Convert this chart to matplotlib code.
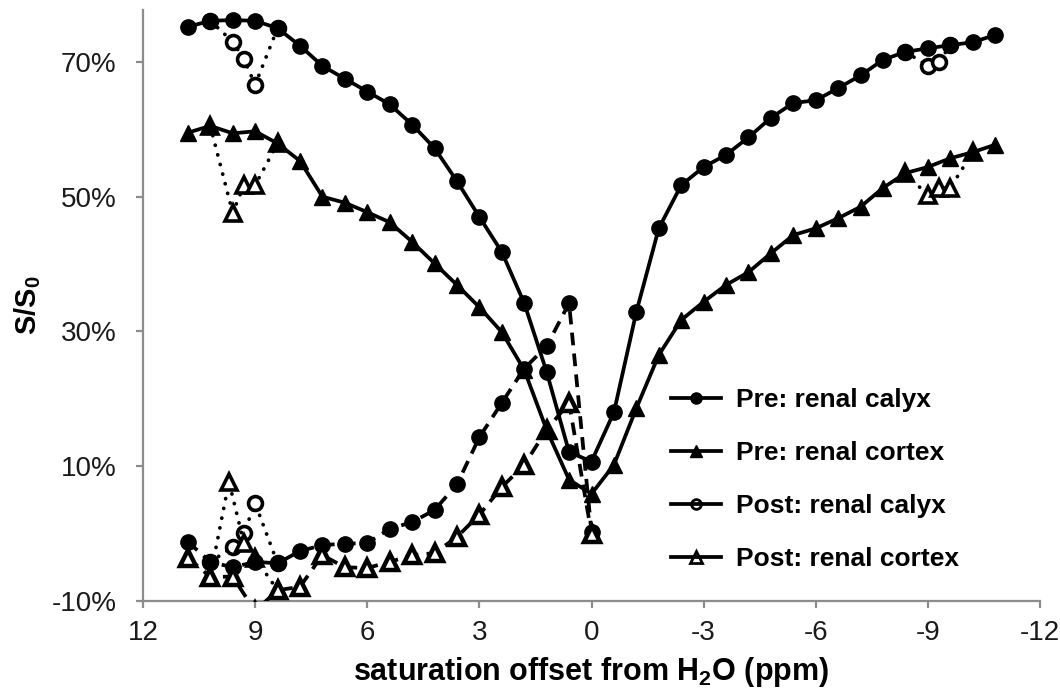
import matplotlib
matplotlib.use("Agg")
import matplotlib.pyplot as plt
from matplotlib.ticker import FixedLocator, FuncFormatter

# ---- data -------------------------------------------------------------
offsets = [10.8, 10.2, 9.6, 9.0, 8.4, 7.8, 7.2, 6.6, 6.0, 5.4, 4.8, 4.2, 3.6,
           3.0, 2.4, 1.8, 1.2, 0.6, 0.0, -0.6, -1.2, -1.8, -2.4, -3.0, -3.6,
           -4.2, -4.8, -5.4, -6.0, -6.6, -7.2, -7.8, -8.4, -9.0, -9.6, -10.2,
           -10.8]

pre_calyx = [75.2, 76.1, 76.2, 76.1, 75.0, 72.4, 69.4, 67.5, 65.6, 63.7, 60.7,
             57.2, 52.3, 47.0, 41.8, 34.2, 24.0, 12.1, 10.7, 18.0, 32.9, 45.3,
             51.7, 54.4, 56.2, 58.8, 61.7, 63.9, 64.3, 66.1, 68.0, 70.3, 71.5,
             72.0, 72.5, 72.9, 74.0]

pre_cortex = [59.5, 60.5, 59.4, 59.7, 57.9, 55.3, 50.0, 49.1, 47.7, 46.2, 43.3,
              40.1, 36.9, 33.6, 29.9, 24.3, 15.4, 8.0, 5.9, 10.2, 18.6, 26.5,
              31.7, 34.4, 36.9, 38.8, 41.6, 44.3, 45.3, 46.8, 48.5, 51.3, 53.5,
              54.4, 55.7, 56.6, 57.7]

# post-injection points that depart from the pre-injection curves
post_calyx_hi_x = [10.2, 9.6, 9.3, 9.0, 8.4]
post_calyx_hi = [76.1, 73.0, 70.4, 66.6, 75.0]
post_cortex_hi_x = [10.2, 9.6, 9.3, 9.0, 8.4]
post_cortex_hi = [60.5, 47.6, 51.7, 51.7, 57.9]
post_calyx_neg_x = [-8.4, -9.0, -9.3, -9.6]
post_calyx_neg = [71.5, 69.4, 70.0, 72.5]
post_cortex_neg_x = [-8.4, -9.0, -9.3, -9.6, -10.2]
post_cortex_neg = [53.5, 50.2, 51.3, 51.3, 56.6]

# lower curves on the positive-offset side
low_x = [10.8, 10.2, 9.6, 9.0, 8.4, 7.8, 7.2, 6.6, 6.0, 5.4, 4.8, 4.2, 3.6,
         3.0, 2.4, 1.8, 1.2, 0.6, 0.0]
low_calyx = [-1.2, -4.2, -5.0, -4.2, -4.4, -2.6, -1.7, -1.5, -1.4, 0.7, 1.7,
             3.5, 7.3, 14.3, 19.4, 24.5, 27.8, 34.2, 0.2]
low_cortex = [-3.6, -6.4, -6.4, -11.5, -8.4, -7.9, -3.2, -5.0, -5.1, -4.2,
              -3.2, -2.9, -0.5, 2.8, 6.9, 10.2, 15.4, 19.4, 0.0]
low_calyx_post_x = [10.2, 9.6, 9.3, 9.0, 8.4]
low_calyx_post = [-4.2, -2.0, 0.1, 4.5, -4.4]
low_cortex_post_x = [10.2, 9.7, 9.3, 9.0, 8.4]
low_cortex_post = [-6.4, 7.7, -1.4, -3.6, -8.4]

x_ticks = [12, 9, 6, 3, 0, -3, -6, -9, -12]
y_ticks = [-10, 10, 30, 50, 70]

# ---- style --------------------------------------------------------------
plt.rcParams['font.family'] = ['Liberation Sans', 'DejaVu Sans']
plt.rcParams['mathtext.fontset'] = 'custom'
plt.rcParams['mathtext.rm'] = 'Liberation Sans'
plt.rcParams['mathtext.bf'] = 'Liberation Sans:bold'

fig = plt.figure(figsize=(10.6, 6.96), dpi=100)
ax = fig.add_axes([143 / 1060, 95 / 696, 897 / 1060, 591 / 696])

LW = 2.7
dashed = (0, (3.4, 2.2))
dotted = (0, (0.05, 2.6))
black = 'black'

def dotted_line(x, y, marker, ms):
    ax.plot(x, y, color=black, lw=LW, linestyle=dotted,
            dash_capstyle='round', marker=marker, ms=ms, mfc='white',
            mec=black, mew=2.6, zorder=2)

# post-injection departures (drawn beneath the pre curves)
dotted_line(post_calyx_hi_x, post_calyx_hi, 'o', 10)
dotted_line(post_cortex_hi_x, post_cortex_hi, '^', 11)
dotted_line(post_calyx_neg_x, post_calyx_neg, 'o', 10)
dotted_line(post_cortex_neg_x, post_cortex_neg, '^', 11)
dotted_line(low_calyx_post_x, low_calyx_post, 'o', 10)
dotted_line(low_cortex_post_x, low_cortex_post, '^', 11)

# lower curves
ax.plot(low_x, low_calyx, color=black, lw=LW, linestyle=dashed,
        marker='o', ms=11, mfc=black, mec=black, zorder=3)
ax.plot(low_x, low_cortex, color=black, lw=LW, linestyle=dashed,
        marker='^', ms=11, mfc='white', mec=black, mew=3.2, zorder=3)

# pre-injection curves
ax.plot(offsets, pre_calyx, color=black, lw=LW, marker='o', ms=11,
        zorder=4)
ax.plot(offsets, pre_cortex, color=black, lw=LW, marker='^', ms=12,
        zorder=4)

# legend entries
handles = [
    ax.plot([], [], color=black, lw=LW, marker='o', ms=8)[0],
    ax.plot([], [], color=black, lw=LW, marker='^', ms=9)[0],
    ax.plot([], [], color=black, lw=LW, marker='o', ms=7, mfc='none',
            mew=2)[0],
    ax.plot([], [], color=black, lw=LW, marker='^', ms=8, mfc='none',
            mew=2)[0],
]
labels = ['Pre: renal calyx', 'Pre: renal cortex', 'Post: renal calyx',
          'Post: renal cortex']
fig.legend(handles, labels, loc='upper left',
           bbox_to_anchor=(671 / 1060, 1 - 388 / 696), frameon=False,
           prop={'weight': 'bold', 'size': 19}, handlelength=1.9,
           handletextpad=0.55, labelspacing=1.1, borderpad=0,
           borderaxespad=0)

# axes
ax.set_xlim(12, -12)
ax.set_ylim(-10, 77.7)
ax.xaxis.set_major_locator(FixedLocator(x_ticks))
ax.yaxis.set_major_locator(FixedLocator(y_ticks))
ax.yaxis.set_major_formatter(FuncFormatter(lambda v, p: f'{v:.0f}%'))
ax.xaxis.set_major_formatter(FuncFormatter(lambda v, p: f'{v:.0f}'))

for side in ('top', 'right'):
    ax.spines[side].set_visible(False)
for side in ('left', 'bottom'):
    ax.spines[side].set_color('#8c8c8c')
    ax.spines[side].set_linewidth(1.6)
ax.tick_params(axis='both', direction='out', length=5, width=1.6,
               color='#8c8c8c', labelsize=20, labelcolor='#1a1a1a')
ax.tick_params(axis='x', pad=9)
ax.tick_params(axis='y', pad=14)

ax.set_xlabel('saturation offset from H$_\\mathbf{2}$O (ppm)',
              fontsize=22, fontweight='bold', labelpad=6)
ax.set_ylabel('S/S$_\\mathbf{0}$', fontsize=21, fontweight='bold',
              labelpad=6)

fig.savefig('out.png', dpi=100)
